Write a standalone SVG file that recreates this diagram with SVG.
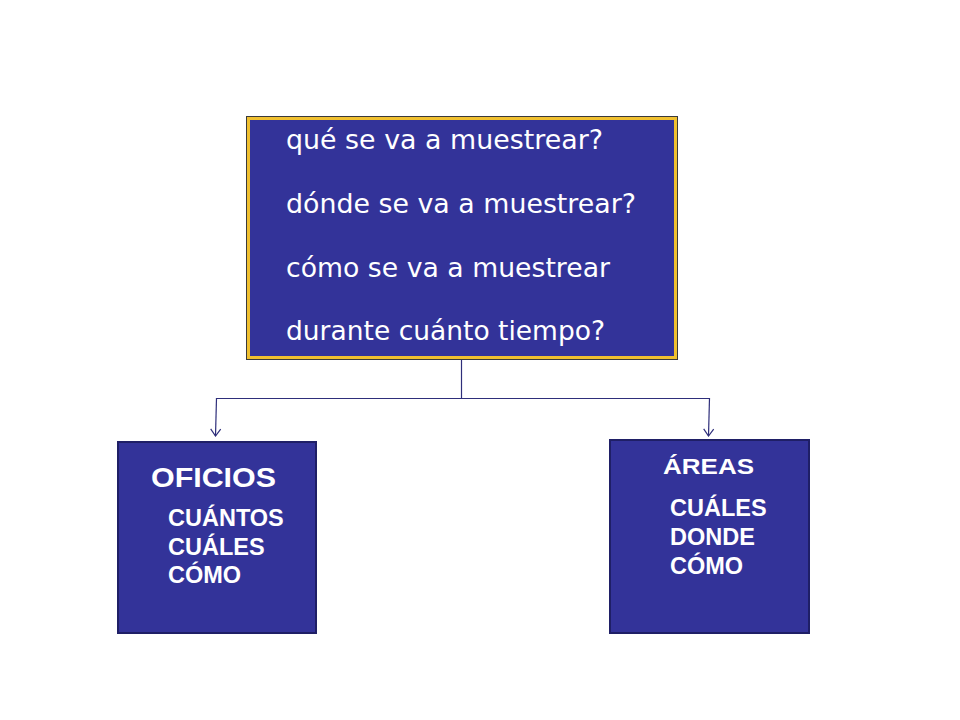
<svg xmlns="http://www.w3.org/2000/svg" width="960" height="720" viewBox="0 0 960 720">
<defs>
<style>
.q{font-family:"DejaVu Sans",Verdana,sans-serif;font-size:27px;fill:#ffffff}
.h{font-family:"Liberation Sans",Arial,sans-serif;font-weight:bold;fill:#ffffff}
.conn{stroke:#2e2e7a;stroke-width:1.2;fill:none}
.box{fill:#333399;stroke:#1f1f66;stroke-width:2}
</style>
<marker id="arr" viewBox="0 0 12 12" refX="11" refY="6" markerWidth="12" markerHeight="12" markerUnits="userSpaceOnUse" orient="auto">
<path d="M4,1 L11,6 L4,11" fill="none" stroke="#2e2e7a" stroke-width="1.2"/>
</marker>
</defs>
<rect width="960" height="720" fill="#ffffff"/>
<g id="top">
<rect x="246.5" y="116.5" width="431" height="243" fill="#333399" stroke="#3a3a3a" stroke-width="1"/>
<rect x="248.5" y="118.5" width="427" height="239" fill="#333399" stroke="#f0c030" stroke-width="3"/>
<text class="q" x="286" y="149" textLength="317" lengthAdjust="spacingAndGlyphs">qué se va a muestrear?</text>
<text class="q" x="286" y="213" textLength="350" lengthAdjust="spacingAndGlyphs">dónde se va a muestrear?</text>
<text class="q" x="286" y="277" textLength="324" lengthAdjust="spacingAndGlyphs">cómo se va a muestrear</text>
<text class="q" x="286" y="340" textLength="319" lengthAdjust="spacingAndGlyphs">durante cuánto tiempo?</text>
</g>
<g id="connectors">
<line class="conn" x1="461.5" y1="360" x2="461.5" y2="398"/>
<line class="conn" x1="216" y1="398.5" x2="710" y2="398.5"/>
<line class="conn" x1="216.5" y1="398" x2="215.5" y2="436" marker-end="url(#arr)"/>
<line class="conn" x1="709.5" y1="398" x2="708.5" y2="436" marker-end="url(#arr)"/>
</g>
<g id="oficios">
<rect class="box" x="118" y="442" width="198" height="191"/>
<text class="h" x="151" y="487" font-size="28" textLength="125" lengthAdjust="spacingAndGlyphs">OFICIOS</text>
<text class="h" x="168" y="526" font-size="23.5">CUÁNTOS</text>
<text class="h" x="168" y="555" font-size="23.5">CUÁLES</text>
<text class="h" x="168" y="583" font-size="23.5">CÓMO</text>
</g>
<g id="areas">
<rect class="box" x="610" y="440" width="199" height="193"/>
<text class="h" x="663" y="474" font-size="22" textLength="91" lengthAdjust="spacingAndGlyphs">ÁREAS</text>
<text class="h" x="670" y="516" font-size="23.5">CUÁLES</text>
<text class="h" x="670" y="545" font-size="23.5">DONDE</text>
<text class="h" x="670" y="574" font-size="23.5">CÓMO</text>
</g>
</svg>
